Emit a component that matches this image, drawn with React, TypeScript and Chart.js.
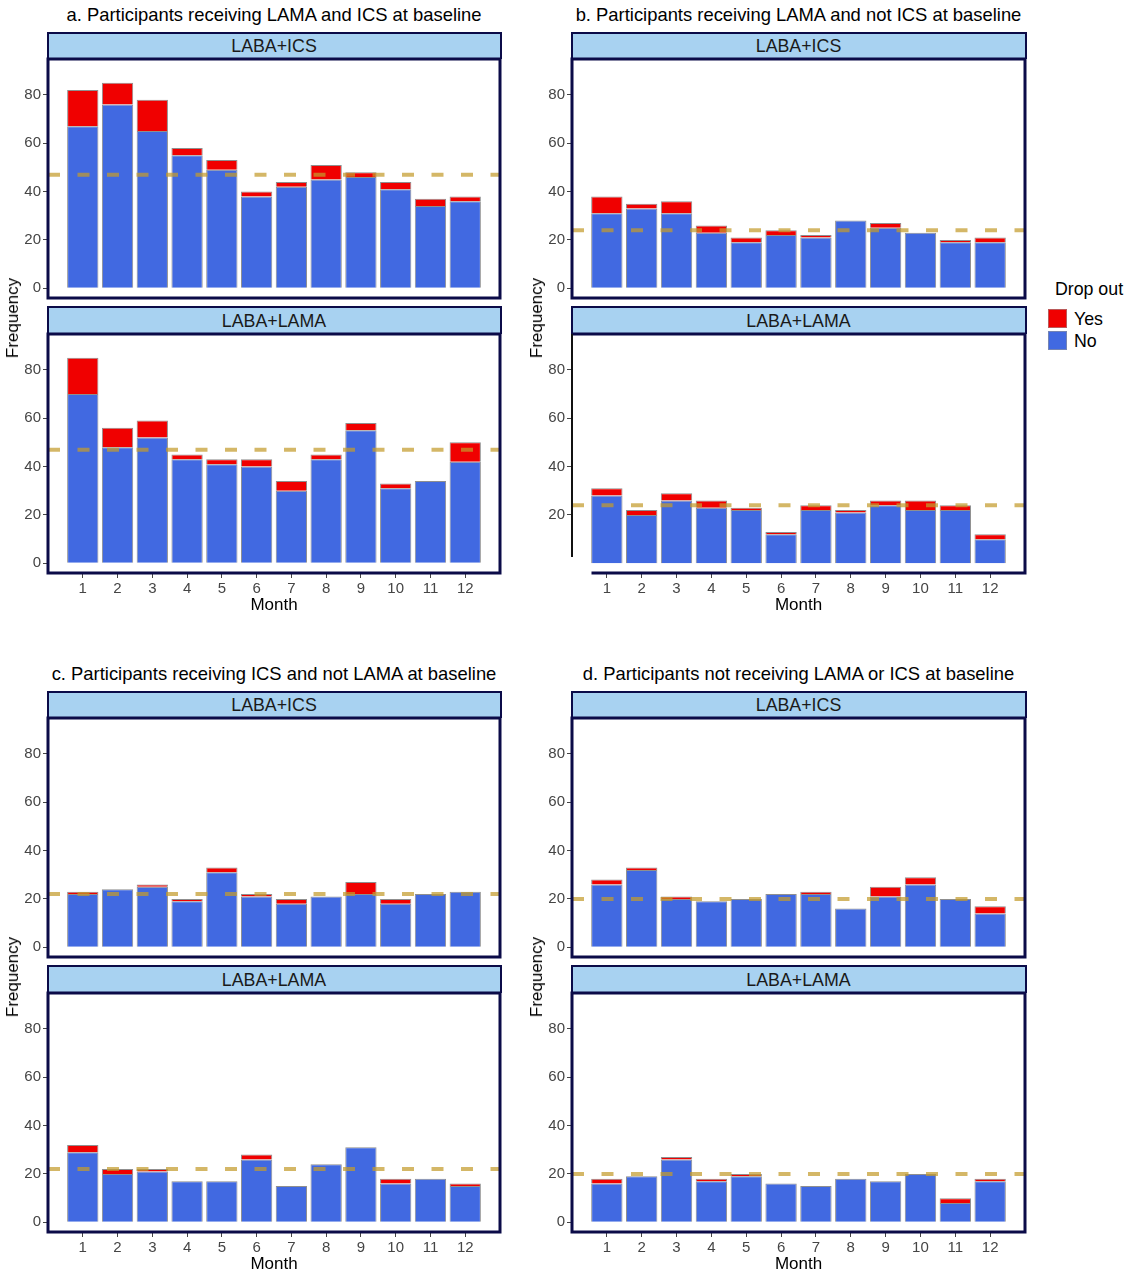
import React, { useEffect, useRef } from 'react';
import { Chart, registerables } from 'chart.js';

Chart.register(...registerables);

// ---------- data ----------
const MONTHS = [1, 2, 3, 4, 5, 6, 7, 8, 9, 10, 11, 12];
const Y_TICKS = [0, 20, 40, 60, 80];

const A_ICS_NO = [67, 76, 65, 55, 49, 38, 42, 45, 46, 41, 34, 36];
const A_ICS_YES = [15, 9, 13, 3, 4, 2, 2, 6, 2, 3, 3, 2];
const A_LAMA_NO = [70, 48, 52, 43, 41, 40, 30, 43, 55, 31, 34, 42];
const A_LAMA_YES = [15, 8, 7, 2, 2, 3, 4, 2, 3, 2, 0, 8];

const B_ICS_NO = [31, 33, 31, 23, 19, 22, 21, 28, 25, 23, 19, 19];
const B_ICS_YES = [7, 2, 5, 3, 2, 2, 1, 0, 2, 0, 1, 2];
const B_LAMA_NO = [28, 20, 26, 23, 22, 12, 22, 21, 24, 22, 22, 10];
const B_LAMA_YES = [3, 2, 3, 3, 1, 1, 2, 1, 2, 4, 2, 2];

const C_ICS_NO = [22, 24, 25, 19, 31, 21, 18, 21, 22, 18, 22, 23];
const C_ICS_YES = [1, 0, 1, 1, 2, 1, 2, 0, 5, 2, 0, 0];
const C_LAMA_NO = [29, 20, 21, 17, 17, 26, 15, 24, 31, 16, 18, 15];
const C_LAMA_YES = [3, 2, 1, 0, 0, 2, 0, 0, 0, 2, 0, 1];

const D_ICS_NO = [26, 32, 20, 19, 20, 22, 22, 16, 21, 26, 20, 14];
const D_ICS_YES = [2, 1, 1, 0, 0, 0, 1, 0, 4, 3, 0, 3];
const D_LAMA_NO = [16, 19, 26, 17, 19, 16, 15, 18, 17, 20, 8, 17];
const D_LAMA_YES = [2, 0, 1, 1, 1, 0, 0, 0, 0, 0, 2, 1];

const REF_A = 47;
const REF_B = 24;
const REF_C = 22;
const REF_D = 20;

const TITLES = [
  'a. Participants receiving LAMA and ICS at baseline',
  'b. Participants receiving LAMA and not ICS at baseline',
  'c. Participants receiving ICS and not LAMA at baseline',
  'd.\u00A0Participants not receiving LAMA or ICS at baseline',
];
const STRIPS = ['LABA+ICS', 'LABA+LAMA'];
const LEGEND_TITLE = 'Drop out';
const LEGEND_LABELS = ['Yes', 'No'];

// ---------- style ----------
const FONT = '"Liberation Sans", Arial, Helvetica, sans-serif';
const NAVY = '#0b0b48';
const BLUE = '#4169E1';
const RED = '#F00000';
const EDGE = 'rgba(105,105,105,0.75)';
const DASH = 'rgba(195,155,45,0.72)';
const STRIP_BG = '#A8D2F1';
const TICK_COLOR = '#454545';

const Y_MIN = -4;
const Y_MAX = 94.8;
const PLOT_H = 239;
const AXIS_W = 40;
const X_AXIS_H = 43;
const PAD = 12;
const TICK_SIZE = 15;

Chart.defaults.font.family = FONT;

type Quirk = { leftLen: number; bottomStart: number } | null;

interface FacetProps {
  left: number;
  right: number;
  top: number;
  no: number[];
  yes: number[];
  refLevel: number;
  showX: boolean;
  yTicks: number[];
  quirk?: Quirk;
}

function Facet({ left, right, top, no, yes, refLevel, showX, yTicks, quirk = null }: FacetProps) {
  const ref = useRef<HTMLCanvasElement>(null);
  const plotW = right - left;
  const w = AXIS_W + plotW + PAD;
  const h = PAD + PLOT_H + (showX ? X_AXIS_H : PAD);

  useEffect(() => {
    if (!ref.current) return;
    const borderPlugin = {
      id: 'panelBorder',
      afterDatasetsDraw(chart: any) {
        const { ctx, chartArea: a } = chart;
        ctx.save();
        ctx.strokeStyle = NAVY;
        ctx.lineWidth = 3;
        if (!quirk) {
          ctx.strokeRect(a.left, a.top, a.right - a.left, a.bottom - a.top);
        } else {
          ctx.beginPath();
          ctx.moveTo(a.left, a.top);
          ctx.lineTo(a.right, a.top);
          ctx.lineTo(a.right, a.bottom);
          ctx.lineTo(a.left + quirk.bottomStart, a.bottom);
          ctx.stroke();
          ctx.strokeStyle = '#111';
          ctx.lineWidth = 2;
          ctx.beginPath();
          ctx.moveTo(a.left, a.top);
          ctx.lineTo(a.left, a.top + quirk.leftLen);
          ctx.stroke();
        }
        ctx.restore();
      },
    };

    const xScale: any = {
      type: 'linear',
      min: 0,
      max: 13,
      offset: false,
      display: showX,
      afterBuildTicks: (s: any) => {
        s.ticks = MONTHS.map((v) => ({ value: v }));
      },
      grid: { offset: false, drawOnChartArea: false, drawTicks: true, tickLength: 5, color: '#444' },
      border: { display: false },
      ticks: {
        font: { size: TICK_SIZE, family: FONT },
        color: TICK_COLOR,
        padding: 2,
        maxRotation: 0,
        autoSkip: false,
        callback: (v: any) => String(v),
      },
      title: {
        display: true,
        text: 'Month',
        font: { size: 17, family: FONT },
        color: '#000',
        padding: { top: 0, bottom: 0 },
      },
    };
    if (showX) {
      xScale.afterFit = (s: any) => {
        s.height = X_AXIS_H;
      };
    }

    const chart = new Chart(ref.current, {
      type: 'bar',
      data: {
        datasets: [
          {
            type: 'line',
            label: 'ref',
            data: [
              { x: 0, y: refLevel },
              { x: 13, y: refLevel },
            ],
            borderColor: DASH,
            borderWidth: 4,
            borderDash: [12, 17.5],
            pointRadius: 0,
            fill: false,
            stack: 'ref',
            order: 0,
          } as any,
          {
            label: 'No',
            data: MONTHS.map((m, i) => ({ x: m, y: no[i] })),
            backgroundColor: BLUE,
            borderColor: EDGE,
            borderWidth: 1,
            stack: 'bars',
            order: 1,
            barPercentage: 0.9,
            categoryPercentage: 1,
          } as any,
          {
            label: 'Yes',
            data: MONTHS.map((m, i) => ({ x: m, y: yes[i] })),
            backgroundColor: RED,
            borderColor: EDGE,
            borderWidth: 1,
            stack: 'bars',
            order: 1,
            barPercentage: 0.9,
            categoryPercentage: 1,
          } as any,
        ],
      },
      options: {
        animation: false,
        responsive: false,
        maintainAspectRatio: false,
        layout: { padding: { top: PAD, right: PAD, left: 0, bottom: showX ? 0 : PAD } },
        plugins: { legend: { display: false }, tooltip: { enabled: false }, title: { display: false } },
        scales: {
          x: xScale,
          y: {
            type: 'linear',
            stacked: true,
            min: Y_MIN,
            max: Y_MAX,
            afterBuildTicks: (s: any) => {
              s.ticks = yTicks.map((v) => ({ value: v }));
            },
            afterFit: (s: any) => {
              s.width = AXIS_W;
            },
            grid: { drawOnChartArea: false, drawTicks: true, tickLength: 5, color: '#444' },
            border: { display: false },
            ticks: {
              font: { size: TICK_SIZE, family: FONT },
              color: TICK_COLOR,
              padding: 2,
              callback: (v: any) => String(v),
            },
          },
        },
      } as any,
      plugins: [borderPlugin],
    });
    return () => chart.destroy();
  }, []);

  return (
    <canvas
      ref={ref}
      width={w}
      height={h}
      style={{ position: 'absolute', left: left - AXIS_W, top: top - PAD, width: w, height: h }}
    />
  );
}

function Strip({ left, right, top, bottom, text }: { left: number; right: number; top: number; bottom: number; text: string }) {
  return (
    <div
      style={{
        position: 'absolute',
        left: left - 1.5,
        top,
        width: right - left + 3,
        height: bottom - top,
        boxSizing: 'border-box',
        background: STRIP_BG,
        borderTop: `2px solid ${NAVY}`,
        borderLeft: `2px solid ${NAVY}`,
        borderRight: `2px solid ${NAVY}`,
        fontFamily: FONT,
        fontSize: 17.8,
        color: '#1a1a1a',
        textAlign: 'center',
        lineHeight: `${bottom - top - 2}px`,
      }}
    >
      {text}
    </div>
  );
}

function Title({ left, right, y, text }: { left: number; right: number; y: number; text: string }) {
  return (
    <div
      style={{
        position: 'absolute',
        left: left - 60,
        width: right - left + 120,
        top: y - 11,
        height: 22,
        lineHeight: '22px',
        textAlign: 'center',
        fontFamily: FONT,
        fontSize: 18.4,
        color: '#000',
        whiteSpace: 'nowrap',
      }}
    >
      {text}
    </div>
  );
}

function YLabel({ x, y }: { x: number; y: number }) {
  return (
    <div
      style={{
        position: 'absolute',
        left: x,
        top: y,
        transform: 'translate(-50%, -50%) rotate(-90deg)',
        fontFamily: FONT,
        fontSize: 17,
        color: '#000',
        whiteSpace: 'nowrap',
      }}
    >
      Frequency
    </div>
  );
}

interface PanelDef {
  title: string;
  left: number;
  right: number;
  rowTop: number;
  top: { no: number[]; yes: number[] };
  bottom: { no: number[]; yes: number[] };
  refLevel: number;
  labelX: number;
  quirkBottom?: boolean;
}

function Panel({ p }: { p: PanelDef }) {
  const o = p.rowTop;
  const strip1Top = o + 31.5;
  const plot1Top = o + 59;
  const strip2Top = o + 306;
  const plot2Top = o + 334;
  return (
    <>
      <Title left={p.left} right={p.right} y={o + 15} text={p.title} />
      <Strip left={p.left} right={p.right} top={strip1Top} bottom={plot1Top} text={STRIPS[0]} />
      <Strip left={p.left} right={p.right} top={strip2Top} bottom={plot2Top} text={STRIPS[1]} />
      <Facet
        left={p.left}
        right={p.right}
        top={plot1Top}
        no={p.top.no}
        yes={p.top.yes}
        refLevel={p.refLevel}
        showX={false}
        yTicks={Y_TICKS}
      />
      <Facet
        left={p.left}
        right={p.right}
        top={plot2Top}
        no={p.bottom.no}
        yes={p.bottom.yes}
        refLevel={p.refLevel}
        showX={true}
        yTicks={p.quirkBottom ? Y_TICKS.filter((t) => t !== 0) : Y_TICKS}
        quirk={p.quirkBottom ? { leftLen: 223, bottomStart: 19.5 } : null}
      />
      <YLabel x={p.labelX} y={o + 318} />
    </>
  );
}

const PANELS: PanelDef[] = [
  {
    title: TITLES[0],
    left: 48,
    right: 500,
    rowTop: 0,
    top: { no: A_ICS_NO, yes: A_ICS_YES },
    bottom: { no: A_LAMA_NO, yes: A_LAMA_YES },
    refLevel: REF_A,
    labelX: 13,
  },
  {
    title: TITLES[1],
    left: 572,
    right: 1025,
    rowTop: 0,
    top: { no: B_ICS_NO, yes: B_ICS_YES },
    bottom: { no: B_LAMA_NO, yes: B_LAMA_YES },
    refLevel: REF_B,
    labelX: 537,
    quirkBottom: true,
  },
  {
    title: TITLES[2],
    left: 48,
    right: 500,
    rowTop: 659,
    top: { no: C_ICS_NO, yes: C_ICS_YES },
    bottom: { no: C_LAMA_NO, yes: C_LAMA_YES },
    refLevel: REF_C,
    labelX: 13,
  },
  {
    title: TITLES[3],
    left: 572,
    right: 1025,
    rowTop: 659,
    top: { no: D_ICS_NO, yes: D_ICS_YES },
    bottom: { no: D_LAMA_NO, yes: D_LAMA_YES },
    refLevel: REF_D,
    labelX: 537,
  },
];

function Legend() {
  const keyStyle = (c: string, top: number): React.CSSProperties => ({
    position: 'absolute',
    left: 1047.5,
    top,
    width: 19,
    height: 19,
    boxSizing: 'border-box',
    background: c,
    border: '1px solid rgba(150,150,150,0.6)',
  });
  const txt = (top: number): React.CSSProperties => ({
    position: 'absolute',
    left: 1074,
    top: top - 11,
    height: 22,
    lineHeight: '22px',
    fontFamily: FONT,
    fontSize: 17.8,
    color: '#000',
  });
  return (
    <>
      <div
        style={{
          position: 'absolute',
          left: 1038,
          width: 102,
          top: 289 - 11,
          height: 22,
          lineHeight: '22px',
          textAlign: 'center',
          fontFamily: FONT,
          fontSize: 17.8,
          color: '#000',
          whiteSpace: 'nowrap',
        }}
      >
        {LEGEND_TITLE}
      </div>
      <div style={keyStyle(RED, 309)} />
      <div style={keyStyle(BLUE, 331)} />
      <div style={txt(318.5)}>{LEGEND_LABELS[0]}</div>
      <div style={txt(340.5)}>{LEGEND_LABELS[1]}</div>
    </>
  );
}

export default function App() {
  return (
    <div
      style={{
        position: 'absolute',
        left: 0,
        top: 0,
        width: 1143,
        height: 1280,
        background: '#fff',
        overflow: 'hidden',
      }}
    >
      {PANELS.map((p, i) => (
        <Panel key={i} p={p} />
      ))}
      <Legend />
    </div>
  );
}
